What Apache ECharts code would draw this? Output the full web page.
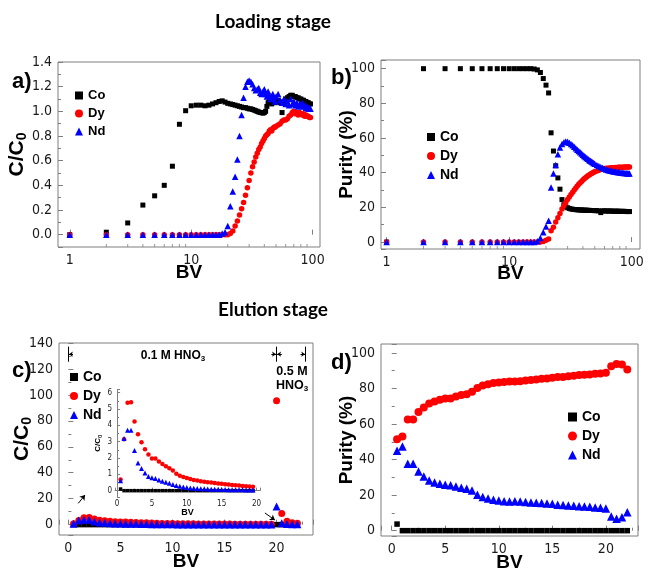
<!DOCTYPE html>
<html>
<head>
<meta charset="utf-8">
<script src="https://cdn.jsdelivr.net/npm/echarts@6/dist/echarts.min.js"></script>
<style>
  html, body { margin: 0; padding: 0; background: #ffffff; }
  #chart { width: 652px; height: 571px; }
</style>
</head>
<body>
<div id="chart"></div>
<script>
// ---------- Loading stage: bed volumes (log axis) ----------
const loadBV = [1,2,3,4,5,6,7,8,9,10,11,12,13,14,15,16,17,18,19,20,21,22,23,24,25,26,27,28,29,30,
  31,32,33,34,35,36,37,38,39,40,41,42,43,44,45,46,47,48,49,50,
  52,54,56,58,60,62,64,66,68,70,72,74,76,78,80,82,84,86,88,90,92,94,96];

// C/C0 during loading
const coLoadC = [0,0.02,0.095,0.24,0.315,0.40,0.555,0.895,1.005,1.045,
  1.05,1.05,1.045,1.05,1.06,1.07,1.08,1.085,1.075,1.065,
  1.06,1.055,1.05,1.045,1.04,1.035,1.03,1.03,1.025,1.02,
  1.02,1.015,1.01,1.005,1.0,0.995,0.99,0.99,0.985,0.99,
  1.0,1.04,1.07,1.09,1.08,1.06,1.08,1.09,1.07,1.08,
  1.09,1.07,0.99,1.08,1.1,1.11,1.12,1.13,1.13,1.12,1.12,1.11,1.11,1.1,1.1,1.09,1.09,1.08,1.08,1.07,1.07,1.06,1.06];
const dyLoadC = [0,0,0,0,0,0,0,0,0,0,0,0,0,0,0,0,0,0,0,0,
  0.01,0.03,0.07,0.11,0.16,0.21,0.26,0.32,0.38,0.44,
  0.5,0.55,0.59,0.63,0.66,0.69,0.71,0.74,0.76,0.78,
  0.8,0.81,0.82,0.84,0.85,0.84,0.86,0.87,0.87,0.88,
  0.89,0.9,0.92,0.93,0.93,0.94,0.96,0.97,0.99,1.0,0.98,0.99,0.97,0.99,0.98,0.97,0.98,0.96,0.97,0.96,0.96,0.95,0.95];
const ndLoadC = [0,0,0,0,0,0,0,0,0,0,0,0,0,0,0,0,0,0.01,0.02,0.07,
  0.23,0.35,0.47,0.61,0.80,0.97,1.11,1.20,1.24,1.25,
  1.24,1.22,1.19,1.17,1.18,1.19,1.15,1.14,1.16,1.18,
  1.14,1.12,1.16,1.13,1.1,1.12,1.14,1.1,1.08,1.12,
  1.14,1.09,1.07,1.1,1.06,1.08,1.05,1.1,1.06,1.08,1.05,1.07,1.04,1.06,1.05,1.07,1.04,1.05,1.03,1.04,1.02,1.03,1.02];

// Purity (%) during loading
const coLoadP = [0,100,100,100,100,100,100,100,100,100,100,100,100,100,100,99.8,99.3,97.8,94.3,90.5,
  86,63,52.5,44,37,30.5,24.5,21.5,20.3,19.8,
  19.4,19.1,18.9,18.8,18.7,18.6,18.6,18.5,18.5,18.4,
  18.4,18.4,18.3,18.3,18.3,18.2,18.2,18.2,18.2,18.1,
  18.1,18.0,17.0,18.0,18.0,17.9,17.9,17.9,17.9,17.8,17.8,17.8,17.8,17.8,17.7,17.7,17.7,17.7,17.7,17.6,17.6,17.6,17.6];
const dyLoadP = [0,0,0,0,0,0,0,0,0,0,0,0,0,0,0,0,0,0,0.3,1.0,
  1.8,6.5,8.5,11.5,14,16.5,19,21,22.8,24.5,
  26,27.4,28.7,30,31.2,32.3,33.3,34.2,35,35.8,
  36.5,37.1,37.7,38.2,38.7,39.1,39.5,39.9,40.2,40.5,
  41,41.4,41.8,42.1,42.3,42.5,42.6,42.7,42.8,42.9,42.9,43,43,43.1,43.1,43.2,43.2,43.2,43.3,43.3,43.3,43.3,43.3];
const ndLoadP = [0,0,0,0,0,0,0,0,0,0,0,0,0,0,0,0,0.5,2.3,5.6,9,
  12.3,31.5,39.6,44.4,50.7,54.6,56.5,57.5,58,57.8,
  57.3,56.6,55.8,55,54.1,53.3,52.5,51.8,51.1,50.4,
  49.7,49.1,48.5,48,47.4,46.9,46.4,46,45.6,45.2,
  44.5,43.9,43.3,42.8,42.3,41.9,41.6,41.3,41.1,40.9,40.7,40.5,40.4,40.3,40.2,40.1,40,39.9,39.8,39.8,39.7,39.6,39.6];

// minor tick positions on the log BV axes
const logMinorTicks = [2,3,4,5,6,7,8,9,20,30,40,50,60,70,80,90];

// ---------- Elution stage ----------
const eluBV = [0.5,1,1.5,2,2.5,3,3.5,4,4.5,5,5.5,6,6.5,7,7.5,8,8.5,9,9.5,10,
  10.5,11,11.5,12,12.5,13,13.5,14,14.5,15,15.5,16,16.5,17,17.5,18,18.5,19,19.5,20,20.5,21,21.5,22];
const insetCount = 39; // inset shows BV 0.5 - 19.5 (0.1 M HNO3)

const coEluC = [0.1,0,0,0,0,0,0,0,0,0,0,0,0,0,0,0,0,0,0,0,0,0,0,0,0,0,0,0,0,0,0,0,0,0,0,0,0,0,0,0,0,0,0,0];
const dyEluC = [0.68,3.15,5.38,5.42,4.24,3.46,2.96,2.53,2.22,1.97,1.97,1.78,1.64,1.49,1.37,1.24,1.04,0.91,0.83,0.77,
  0.72,0.66,0.62,0.58,0.54,0.52,0.5,0.47,0.44,0.42,0.4,0.37,0.35,0.33,0.31,0.29,0.27,0.26,0.24,
  95.5,8.5,2.6,1.5,1.0];
const ndEluC = [0.6,3.19,3.7,3.7,2.46,1.7,1.35,1.08,0.87,0.79,0.75,0.66,0.58,0.52,0.45,0.37,0.31,0.27,0.23,0.2,
  0.17,0.15,0.14,0.12,0.11,0.1,0.09,0.08,0.08,0.07,0.07,0.06,0.06,0.05,0.05,0.05,0.04,0.04,0.04,
  14,1.0,0.5,0.3,0.2];

const coEluP = [3.7,0,0,0,0,0,0,0,0,0,0,0,0,0,0,0,0,0,0,0,0,0,0,0,0,0,0,0,0,0,0,0,0,0,0,0,0,0,0,0,0,0,0,0];
const dyEluP = [51.4,52.9,62.6,62.6,66.7,69.3,71.6,72.7,73.6,74.4,74.4,75.5,76.3,76.8,78.1,80.2,81.7,82.4,83.0,83.4,
  83.6,83.9,83.9,84.1,84.5,84.7,85.0,85.4,85.6,86.0,86.4,86.5,86.9,87.1,87.5,87.7,87.9,88.2,88.4,88.8,
  92.5,93.8,93.5,90.7];
const ndEluP = [45,47.3,37.6,37.6,33.3,30.5,28.2,27.1,26.4,25.8,25.6,24.9,24.1,23.6,22.6,20.2,18.9,18.1,17.4,17.0,
  16.6,16.4,16.6,16.4,16.1,15.9,15.7,15.5,15.3,15.1,14.6,14.4,14.2,14.0,13.8,13.6,13.5,13.1,12.9,12.5,
  8.0,6.7,7.5,10.3];

// ---------- styling ----------
const AX = '#7f7f7f';
const INK = '#1a1a1a';
const NARROW = '"Liberation Sans Narrow","Arial Narrow","DejaVu Sans Condensed","Liberation Sans",sans-serif';
const SANS = '"Liberation Sans",Arial,Helvetica,sans-serif';
const C_CO = '#000000', C_DY = '#ff0000', C_ND = '#0000ff';

const subRich = (big, small, pad) => ({
  m: { fontFamily: SANS, fontWeight: 'bold', fontSize: big, color: '#000' },
  s: { fontFamily: SANS, fontWeight: 'bold', fontSize: small, color: '#000', verticalAlign: 'bottom', padding: [pad, 0, 0, 0] }
});

function axis(o) {
  return {
    gridIndex: o.grid,
    type: o.type || 'value',
    logBase: 10,
    min: o.min, max: o.max,
    splitNumber: o.split,
    name: o.name, nameLocation: 'middle', nameGap: o.nameGap,
    nameMoveOverlap: false,
    nameTextStyle: Object.assign({ fontFamily: SANS, fontWeight: 'bold', fontSize: o.nameSize || 19, color: '#000' },
      o.rich ? { rich: o.rich } : {}),
    axisLine: { show: !!o.line, lineStyle: { color: AX, width: 1 } },
    axisTick: { show: true, inside: true, length: o.tickLen || 5, lineStyle: { color: AX } },
    minorTick: { show: o.minor !== false, splitNumber: 2, length: o.minorLen || 3, lineStyle: { color: AX } },
    splitLine: { show: false },
    minorSplitLine: { show: false },
    axisLabel: {
      color: INK, fontFamily: NARROW, fontSize: o.labelSize || 14, margin: o.margin || 6,
      showMinLabel: o.showMin, showMaxLabel: o.showMax, formatter: o.fmt
    }
  };
}

function pts(xs, ys, n) {
  const out = [];
  const len = n || xs.length;
  for (let i = 0; i < len; i++) out.push([xs[i], ys[i]]);
  return out;
}

function marks(name, gi, xs, ys, symbol, size, color, n) {
  return {
    type: 'scatter', name, xAxisIndex: gi, yAxisIndex: gi,
    data: pts(xs, ys, n), symbol, symbolSize: size,
    itemStyle: { color, opacity: 1 }, silent: true, clip: false, animation: false
  };
}

function logTicks(gi, yMin) {
  return {
    type: 'scatter', name: 'minorTicks' + gi, xAxisIndex: gi, yAxisIndex: gi,
    data: logMinorTicks.map(v => [v, yMin]),
    symbol: 'rect', symbolSize: [1, 3], symbolOffset: [0, -1.5],
    itemStyle: { color: AX }, silent: true, clip: false, animation: false, z: 1
  };
}

function legend(left, top, size, fontSize, gap) {
  return {
    orient: 'vertical', left, top, padding: 0,
    itemWidth: size, itemHeight: size, itemGap: gap,
    selectedMode: false,
    textStyle: { fontFamily: SANS, fontWeight: 'bold', fontSize, color: '#000' },
    data: [{ name: 'Co', icon: 'rect' }, { name: 'Dy', icon: 'circle' }, { name: 'Nd', icon: 'triangle' }]
  };
}

const gridBox = { show: true, borderColor: AX, borderWidth: 1, backgroundColor: 'transparent', containLabel: false, outerBoundsMode: 'none' };

const option = {
  animation: false,
  backgroundColor: '#ffffff',
  textStyle: { fontFamily: SANS },
  grid: [
    Object.assign({ left: 58, top: 62, width: 262, height: 185 }, gridBox),     // a
    Object.assign({ left: 381, top: 60, width: 259, height: 189 }, gridBox),    // b
    Object.assign({ left: 59, top: 343, width: 254, height: 192 }, gridBox),    // c
    Object.assign({ left: 381, top: 344, width: 257, height: 192 }, gridBox),   // d
    { left: 115, top: 389.4, width: 145, height: 107.8, show: false, containLabel: false, outerBoundsMode: 'none' } // inset
  ],
  xAxis: [
    axis({ grid: 0, type: 'log', min: 0.8, max: 115, name: 'BV', nameGap: 16, minor: false, showMin: false, showMax: false }),
    axis({ grid: 1, type: 'log', min: 0.9, max: 117, name: 'BV', nameGap: 15, minor: false, showMin: false, showMax: false }),
    axis({ grid: 2, min: -0.9, max: 23.5, split: 5, name: 'BV', nameGap: 17, showMin: false, showMax: false }),
    axis({ grid: 3, min: -1, max: 23, split: 5, name: 'BV', nameGap: 17, showMin: false, showMax: false }),
    axis({ grid: 4, min: -0.3, max: 20.5, split: 4, name: 'BV', nameGap: 11, nameSize: 9, labelSize: 8, margin: 3,
      tickLen: 3, minorLen: 2, line: true, showMin: false, showMax: false })
  ],
  yAxis: [
    axis({ grid: 0, min: -0.1, max: 1.4, split: 7, name: '{m|C/C}{s|0}', rich: subRich(21, 14, 9), nameGap: 29,
      showMin: false, fmt: v => v.toFixed(1) }),
    axis({ grid: 1, min: -4, max: 105, split: 5, name: 'Purity (%)', nameGap: 25, showMin: false, showMax: false }),
    axis({ grid: 2, min: -8, max: 140, split: 7, name: '{m|C/C}{s|0}', rich: subRich(21, 14, 9), nameGap: 25,
      showMin: false }),
    axis({ grid: 3, min: -3, max: 105, split: 5, name: 'Purity (%)', nameGap: 25, showMin: false, showMax: false }),
    axis({ grid: 4, min: -0.4, max: 6.2, split: 6, name: '{m|C/C}{s|0}', rich: subRich(8, 6, 4), nameGap: 12,
      labelSize: 8, margin: 3, tickLen: 3, minorLen: 2, line: true, showMin: false, showMax: false })
  ],
  legend: [
    legend(75, 89, 8, 13, 5),
    legend(427, 130, 8, 14, 5),
    legend(70, 370, 8, 14, 5),
    legend(568, 410, 9, 14, 5)
  ],
  series: [
    // a) C/C0, loading
    logTicks(0, -0.1),
    marks('Co', 0, loadBV, coLoadC, 'rect', 5, C_CO),
    marks('Dy', 0, loadBV, dyLoadC, 'circle', 5.5, C_DY),
    marks('Nd', 0, loadBV, ndLoadC, 'triangle', 6.5, C_ND),
    // b) purity, loading
    logTicks(1, -4),
    marks('Co', 1, loadBV, coLoadP, 'rect', 5, C_CO),
    marks('Dy', 1, loadBV, dyLoadP, 'circle', 5.5, C_DY),
    marks('Nd', 1, loadBV, ndLoadP, 'triangle', 6.5, C_ND),
    // c) C/C0, elution
    Object.assign(marks('Co', 2, eluBV, coEluC, 'rect', 5.5, C_CO), {
      markLine: {
        silent: true, animation: false, symbol: ['none', 'none'], symbolSize: 5,
        label: { show: false }, emphasis: { disabled: true },
        lineStyle: { color: '#000', width: 1, type: 'solid' },
        data: [
          [{ coord: [0, 137.2] }, { coord: [0, 125.6] }],
          [{ coord: [20, 137.2] }, { coord: [20, 125.6] }],
          [{ coord: [22.8, 137.2] }, { coord: [22.8, 125.6] }],
          [{ coord: [0.45, 131.4] }, { coord: [0.05, 131.4], symbol: 'arrow', symbolSize: 4 }],
          [{ coord: [19.5, 131.4] }, { coord: [19.95, 131.4], symbol: 'arrow', symbolSize: 4 }],
          [{ coord: [20.5, 131.4] }, { coord: [20.05, 131.4], symbol: 'arrow', symbolSize: 4 }],
          [{ coord: [22.3, 131.4] }, { coord: [22.75, 131.4], symbol: 'arrow', symbolSize: 4 }],
          [{ coord: [0.95, 16.4] }, { coord: [1.6, 22.8], symbol: 'arrow', symbolSize: 5 }],
          [{ coord: [18.88, 9.0] }, { coord: [19.84, 3.5], symbol: 'arrow', symbolSize: 5 }]
        ]
      }
    }),
    marks('Dy', 2, eluBV, dyEluC, 'circle', 7, C_DY),
    marks('Nd', 2, eluBV, ndEluC, 'triangle', 8, C_ND),
    // d) purity, elution
    marks('Co', 3, eluBV, coEluP, 'rect', 5.5, C_CO),
    marks('Dy', 3, eluBV, dyEluP, 'circle', 8, C_DY),
    marks('Nd', 3, eluBV, ndEluP, 'triangle', 8.5, C_ND),
    // inset: 0.1 M HNO3 section of c)
    marks('Co', 4, eluBV, coEluC, 'rect', 3.5, C_CO, insetCount),
    marks('Dy', 4, eluBV, dyEluC, 'circle', 4.5, C_DY, insetCount),
    marks('Nd', 4, eluBV, ndEluC, 'triangle', 5, C_ND, insetCount)
  ],
  graphic: [
    { type: 'text', x: 273, y: 22, style: { text: 'Loading stage', fontFamily: 'Lato, "Open Sans", sans-serif', fontWeight: 'bold', fontSize: 19, fill: '#000', align: 'center', verticalAlign: 'middle' } },
    { type: 'text', x: 273, y: 310, style: { text: 'Elution stage', fontFamily: 'Lato, "Open Sans", sans-serif', fontWeight: 'bold', fontSize: 19, fill: '#000', align: 'center', verticalAlign: 'middle' } },
    { type: 'text', x: 12, y: 82, style: { text: 'a)', fontFamily: SANS, fontWeight: 'bold', fontSize: 22, fill: '#000', align: 'left', verticalAlign: 'middle' } },
    { type: 'text', x: 331, y: 78, style: { text: 'b)', fontFamily: SANS, fontWeight: 'bold', fontSize: 22, fill: '#000', align: 'left', verticalAlign: 'middle' } },
    { type: 'text', x: 12, y: 371, style: { text: 'c)', fontFamily: SANS, fontWeight: 'bold', fontSize: 22, fill: '#000', align: 'left', verticalAlign: 'middle' } },
    { type: 'text', x: 331, y: 363, style: { text: 'd)', fontFamily: SANS, fontWeight: 'bold', fontSize: 22, fill: '#000', align: 'left', verticalAlign: 'middle' } },
    { type: 'text', x: 173, y: 356, style: { text: '{m|0.1 M HNO}{s|3}', rich: subRich(12, 8, 5), align: 'center', verticalAlign: 'middle' } },
    { type: 'text', x: 292, y: 372, style: { text: '0.5 M', fontFamily: SANS, fontWeight: 'bold', fontSize: 12.5, fill: '#000', align: 'center', verticalAlign: 'middle' } },
    { type: 'text', x: 292, y: 386, style: { text: '{m|HNO}{s|3}', rich: subRich(12.5, 8, 5), align: 'center', verticalAlign: 'middle' } }
  ]
};

const chart = echarts.init(document.getElementById('chart'), null, { renderer: 'canvas' });
chart.setOption(option);
</script>
</body>
</html>
